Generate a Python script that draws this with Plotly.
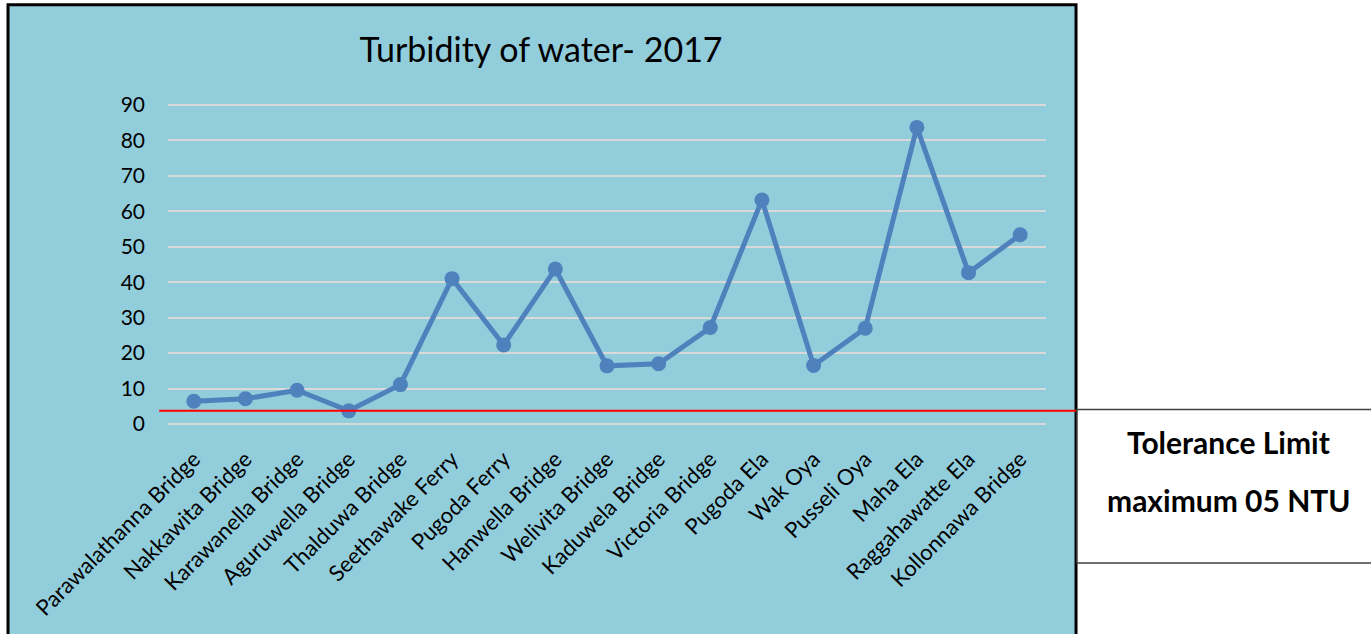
import plotly.graph_objects as go

# Data
sites = ["Parawalathanna Bridge", "Nakkawita Bridge", "Karawanella Bridge", "Aguruwella Bridge",
         "Thalduwa Bridge", "Seethawake Ferry", "Pugoda Ferry", "Hanwella Bridge", "Welivita Bridge",
         "Kaduwela Bridge", "Victoria Bridge", "Pugoda Ela", "Wak Oya", "Pusseli Oya", "Maha Ela",
         "Raggahawatte Ela", "Kollonnawa Bridge"]
turbidity = [6.4, 7.1, 9.5, 3.7, 11.1, 41.0, 22.3, 43.7, 16.4, 17.0, 27.2, 63.2, 16.5, 27.0, 83.7, 42.7, 53.4]
limit_line = 3.75
y_ticks = [0, 10, 20, 30, 40, 50, 60, 70, 80, 90]

FONT = "Lato, Calibri, sans-serif"
BG = "#92CDDC"
LINE = "#4F81BD"

fig = go.Figure()
fig.add_trace(go.Scatter(x=sites, y=turbidity, mode="lines+markers",
                         line=dict(color=LINE, width=5),
                         marker=dict(color=LINE, size=15), showlegend=False))

# y range padded a little so the 0 and 90 gridlines get drawn
fig.update_layout(
    width=1371, height=634,
    margin=dict(l=168, r=325, t=104, b=209),
    paper_bgcolor="white", plot_bgcolor="rgba(0,0,0,0)",
    font=dict(family=FONT, color="black"),
    title=dict(text="Turbidity of water- 2017", x=541 / 1371, xanchor="center",
               y=1 - 50 / 634, yanchor="middle", font=dict(size=34, family=FONT)),
)
fig.update_xaxes(range=[-0.5, len(sites) - 0.5], showgrid=False, showline=False, zeroline=False,
                 tickangle=-45, tickfont=dict(size=22), ticks="", ticklabelstandoff=16)
fig.update_yaxes(range=[-0.3, 90.3], tickvals=y_ticks, showgrid=True, gridcolor="#D9D9D9", gridwidth=2,
                 zeroline=False, showline=False, tickfont=dict(size=21), ticks="",
                 ticklabelstandoff=22)

# chart area background with black border (extends below the window)
fig.add_shape(type="rect", xref="paper", yref="paper", x0=-0.1822, x1=1.0342, y0=-0.70, y1=1.309,
              fillcolor=BG, line=dict(color="black", width=3), layer="below")
# tolerance limit line
fig.add_shape(type="line", xref="paper", yref="y", x0=-0.01, x1=1.0342, y0=limit_line, y1=limit_line,
              line=dict(color="red", width=2))
# tolerance text box
fig.add_shape(type="rect", xref="paper", yref="paper", x0=1.0353, x1=1.40, y0=-0.430, y1=0.048,
              fillcolor="white", line=dict(color="#404040", width=1.5))
fig.add_annotation(text="<b>Tolerance Limit</b>", xref="paper", yref="paper", x=1.2084, y=-0.052,
                   xanchor="center", yanchor="middle", showarrow=False, font=dict(size=30, family=FONT))
fig.add_annotation(text="<b>maximum 05 NTU</b>", xref="paper", yref="paper", x=1.2084, y=-0.233,
                   xanchor="center", yanchor="middle", showarrow=False, font=dict(size=30, family=FONT))

# drop the default body margin so the figure sits at the page corner
fig.write_html("out.html", config={"displayModeBar": False},
               post_script="document.body.style.margin='0';")
